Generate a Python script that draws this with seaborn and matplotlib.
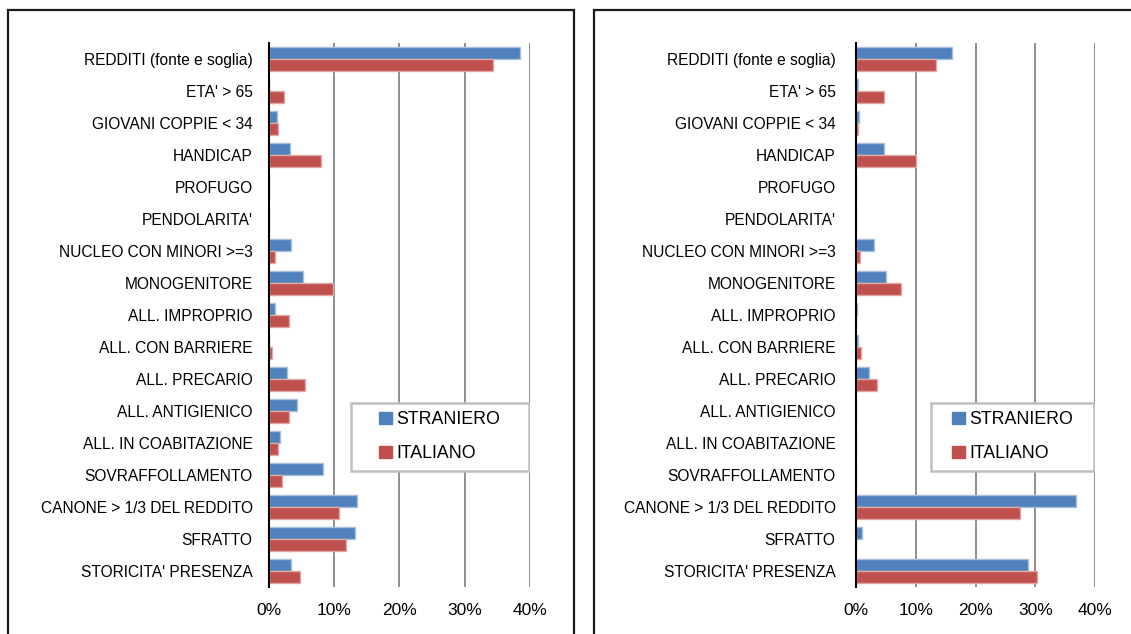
import seaborn as sns
from matplotlib import pyplot as plt
from matplotlib.patches import Rectangle
from matplotlib.ticker import PercentFormatter, FixedLocator
import matplotlib.colors as mcolors
import pandas as pd
import numpy as np

# Categorie (dall'alto verso il basso)
categorie = ["REDDITI (fonte e soglia)", "ETA' > 65", "GIOVANI COPPIE < 34", "HANDICAP",
             "PROFUGO", "PENDOLARITA'", "NUCLEO CON MINORI >=3", "MONOGENITORE",
             "ALL. IMPROPRIO", "ALL. CON BARRIERE", "ALL. PRECARIO", "ALL. ANTIGIENICO",
             "ALL. IN COABITAZIONE", "SOVRAFFOLLAMENTO", "CANONE > 1/3 DEL REDDITO",
             "SFRATTO", "STORICITA' PRESENZA"]
serie = ["STRANIERO", "ITALIANO"]

# Grafico di sinistra (%)
sx_straniero = [38.5, 0.0, 1.3, 3.3, 0.0, 0.0, 3.4, 5.25, 1.0, 0.1, 2.9, 4.3, 1.7, 8.4, 13.5, 13.3, 3.5]
sx_italiano = [34.4, 2.4, 1.4, 8.1, 0.0, 0.15, 1.0, 9.85, 3.2, 0.5, 5.6, 3.1, 1.5, 2.1, 10.8, 11.8, 4.8]

# Grafico di destra (%)
dx_straniero = [16.0, 0.45, 0.55, 4.7, 0.0, 0.0, 3.1, 5.0, 0.3, 0.35, 2.2, 0.0, 0.0, 0.0, 36.8, 1.05, 28.8]
dx_italiano = [13.4, 4.8, 0.35, 10.0, 0.0, 0.0, 0.7, 7.6, 0.0, 0.95, 3.6, 0.0, 0.0, 0.0, 27.5, 0.1, 30.3]

colori = {"STRANIERO": "#4F81BD", "ITALIANO": "#C0504D"}

sns.set_style("white")
plt.rcParams['font.family'] = ['Liberation Sans', 'DejaVu Sans']
plt.rcParams['text.color'] = 'black'
plt.rcParams['xtick.color'] = 'black'
plt.rcParams['ytick.color'] = 'black'


def tabella(straniero, italiano):
    righe = []
    for c, s, i in zip(categorie, straniero, italiano):
        righe.append({"categoria": c, "serie": "STRANIERO", "valore": s})
        righe.append({"categoria": c, "serie": "ITALIANO", "valore": i})
    return pd.DataFrame(righe)


def disegna(ax, df, label_pad):
    sns.barplot(data=df, y="categoria", x="valore", hue="serie", order=categorie,
                hue_order=serie, palette=colori, saturation=1, orient="h", width=0.75, gap=0,
                ax=ax, legend=False)
    # bordo chiaro sulle barre, stile Excel
    for p in ax.patches:
        fc = np.array(mcolors.to_rgb(p.get_facecolor()))
        p.set_edgecolor(tuple(fc + (1 - fc) * 0.5))
        p.set_linewidth(1.0)
    ax.set_xlim(0, 40)
    ax.set_ylim(len(categorie) - 0.5, -0.5)
    ax.set_xticks([0, 10, 20, 30, 40])
    ax.xaxis.set_major_formatter(PercentFormatter(100, decimals=0))
    ax.grid(axis="x", color="#868686", linewidth=1.3)
    ax.set_axisbelow(True)
    for s in ["top", "right", "bottom"]:
        ax.spines[s].set_visible(False)
    ax.spines["left"].set_color("black")
    ax.spines["left"].set_linewidth(1.5)
    ax.spines["left"].set_zorder(5)
    ax.set_xlabel("")
    ax.set_ylabel("")
    ax.tick_params(axis="x", length=0, pad=12, labelsize=12.5)
    ax.tick_params(axis="y", which="major", length=0, pad=label_pad, labelsize=11.2)
    ax.yaxis.set_minor_locator(FixedLocator(np.arange(-0.5, len(categorie), 1)))
    ax.tick_params(axis="y", which="minor", direction="inout", length=8, width=1.3, color="black")

    # legenda con cornice grigia
    ax.add_patch(Rectangle((0.314, 0.2135), 0.681, 0.125, transform=ax.transAxes,
                           facecolor="white", edgecolor="#BFBFBF", linewidth=1.8, zorder=6))
    handles = [plt.Rectangle((0, 0), 1, 1, color=colori[s]) for s in serie]
    ax.legend(handles, serie, loc="center", bbox_to_anchor=(0.314 + 0.681 / 2, 0.2135 + 0.0625),
              frameon=False, fontsize=12.8, handlelength=0.7, handleheight=0.66,
              handletextpad=0.25, labelspacing=0.95).set_zorder(7)


fig = plt.figure(figsize=(11.31, 6.34), dpi=100)
W, H = 1131, 634
ax1 = fig.add_axes([268.5 / W, (H - 586.7) / H, (530 - 268.5) / W, 543.4 / H])
ax2 = fig.add_axes([855.7 / W, (H - 586.7) / H, (1095.3 - 855.7) / W, 543.4 / H])

disegna(ax1, tabella(sx_straniero, sx_italiano), 11.5)
disegna(ax2, tabella(dx_straniero, dx_italiano), 14.5)

# cornici dei due pannelli
fig.add_artist(Rectangle((8 / W, -0.05), (574 - 8) / W, 1.05 - 10 / H, transform=fig.transFigure,
                         fill=False, edgecolor="#1a1a1a", linewidth=1.6))
fig.add_artist(Rectangle((594 / W, -0.05), (1140 - 594) / W, 1.05 - 10 / H, transform=fig.transFigure,
                         fill=False, edgecolor="#1a1a1a", linewidth=1.6))

fig.savefig("out.png", dpi=100)
